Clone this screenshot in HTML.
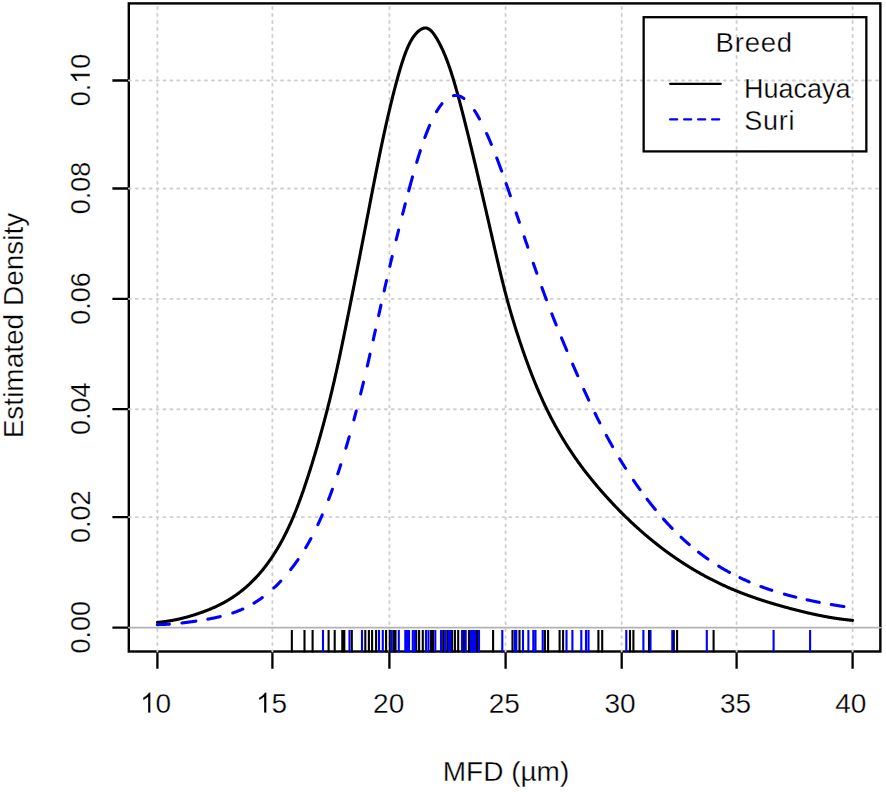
<!DOCTYPE html><html><head><meta charset="utf-8"><style>html,body{margin:0;padding:0;background:#fff;overflow:hidden}svg{display:block}text{font-family:"Liberation Sans",sans-serif;fill:#000;stroke:#fff;stroke-width:0.3px}</style></head><body>
<svg width="886" height="792" viewBox="0 0 886 792">
<rect width="886" height="792" fill="#fff"/>
<rect x="128.8" y="3.4" width="751.55" height="648.10" fill="none" stroke="#000" stroke-width="2.4"/>
<path d="M157.4,651.5V668.7M272.4,651.5V668.7M389.4,651.5V668.7M505.6,651.5V668.7M621.7,651.5V668.7M736.6,651.5V668.7M852.6,651.5V668.7M112.4,627.6H128.8M112.4,517.1H128.8M112.4,409.2H128.8M112.4,298.9H128.8M112.4,188.5H128.8M112.4,80.5H128.8" stroke="#000" stroke-width="2.3" fill="none"/>
<path d="M157.4,651.5V3.4M272.4,651.5V3.4M389.4,651.5V3.4M505.6,651.5V3.4M621.7,651.5V3.4M736.6,651.5V3.4M852.6,651.5V3.4" stroke="#cfcfcf" stroke-width="1.9" stroke-dasharray="1.9 5.09" stroke-dashoffset="0.55" fill="none" stroke-linecap="round"/>
<path d="M128.8,517.1H880.35M128.8,409.2H880.35M128.8,298.9H880.35M128.8,188.5H880.35M128.8,80.5H880.35" stroke="#cfcfcf" stroke-width="1.9" stroke-dasharray="1.9 5.016" stroke-dashoffset="6.75" fill="none" stroke-linecap="round"/>
<path d="M128.8,627.6H880.35" stroke="#b2b2b2" stroke-width="1.9" stroke-linecap="round"/>
<path d="M763,0L583,0L583,1147Q518,1085 412.5,1023T223,930L223,1104Q374,1175 487,1276T647,1472L763,1472Z" transform="translate(140.05,712.7) scale(0.013672,-0.013672)" fill="#000" stroke="#fff" stroke-width="0.3" vector-effect="non-scaling-stroke"/><text x="155.62" y="712.7" font-size="28">0</text>
<path d="M763,0L583,0L583,1147Q518,1085 412.5,1023T223,930L223,1104Q374,1175 487,1276T647,1472L763,1472Z" transform="translate(256.04,712.7) scale(0.013672,-0.013672)" fill="#000" stroke="#fff" stroke-width="0.3" vector-effect="non-scaling-stroke"/><text x="271.61" y="712.7" font-size="28">5</text>
<text x="373.12" y="712.7" font-size="28">20</text>
<text x="488.76" y="712.7" font-size="28">25</text>
<text x="604.39" y="712.7" font-size="28">30</text>
<text x="719.88" y="712.7" font-size="28">35</text>
<text x="835.25" y="712.7" font-size="28">40</text>
<g transform="translate(89.9,627.2) rotate(-90)"><text x="-26.27" y="0" font-size="27">0.00</text></g>
<g transform="translate(89.9,516.7) rotate(-90)"><text x="-26.27" y="0" font-size="27">0.02</text></g>
<g transform="translate(89.9,408.8) rotate(-90)"><text x="-26.27" y="0" font-size="27">0.04</text></g>
<g transform="translate(89.9,298.5) rotate(-90)"><text x="-26.27" y="0" font-size="27">0.06</text></g>
<g transform="translate(89.9,188.1) rotate(-90)"><text x="-26.27" y="0" font-size="27">0.08</text></g>
<g transform="translate(89.9,80.1) rotate(-90)"><text x="-26.27" y="0" font-size="27">0.</text><path d="M763,0L583,0L583,1147Q518,1085 412.5,1023T223,930L223,1104Q374,1175 487,1276T647,1472L763,1472Z" transform="translate(-3.76,0) scale(0.013184,-0.013184)" fill="#000" stroke="#fff" stroke-width="0.3" vector-effect="non-scaling-stroke"/><text x="11.26" y="0" font-size="27">0</text></g>
<text x="506" y="781.4" font-size="28" text-anchor="middle">MFD (µm)</text>
<text transform="translate(23.0,325.5) rotate(-90)" font-size="28" text-anchor="middle">Estimated Density</text>
<path d="M157.40,622.37 L157.90,622.33 L158.40,622.29 L158.90,622.24 L159.40,622.20 L159.90,622.15 L160.40,622.10 L160.90,622.05 L161.40,621.99 L161.90,621.94 L162.40,621.88 L162.90,621.82 L163.40,621.76 L163.90,621.70 L164.40,621.63 L164.90,621.57 L165.40,621.50 L165.90,621.43 L166.40,621.36 L166.90,621.29 L167.40,621.21 L167.90,621.14 L168.40,621.06 L168.90,620.98 L169.40,620.90 L169.90,620.81 L170.40,620.73 L170.90,620.64 L171.40,620.56 L171.90,620.47 L172.40,620.38 L172.90,620.28 L173.40,620.19 L173.90,620.09 L174.40,619.99 L174.90,619.89 L175.40,619.79 L175.90,619.69 L176.40,619.59 L176.90,619.48 L177.40,619.37 L177.90,619.26 L178.40,619.15 L178.90,619.04 L179.40,618.93 L179.90,618.81 L180.40,618.70 L180.90,618.58 L181.40,618.46 L181.90,618.34 L182.40,618.21 L182.90,618.09 L183.40,617.96 L183.90,617.84 L184.40,617.71 L184.90,617.58 L185.40,617.44 L185.90,617.31 L186.40,617.18 L186.90,617.04 L187.40,616.90 L187.90,616.76 L188.40,616.62 L188.90,616.48 L189.40,616.33 L189.90,616.19 L190.40,616.04 L190.90,615.89 L191.40,615.74 L191.90,615.59 L192.40,615.44 L192.90,615.29 L193.40,615.13 L193.90,614.98 L194.40,614.82 L194.90,614.66 L195.40,614.50 L195.90,614.34 L196.40,614.17 L196.90,614.01 L197.40,613.84 L197.90,613.67 L198.40,613.51 L198.90,613.34 L199.40,613.16 L199.90,612.99 L200.40,612.82 L200.90,612.64 L201.40,612.47 L201.90,612.29 L202.40,612.11 L202.90,611.93 L203.40,611.74 L203.90,611.56 L204.40,611.37 L204.90,611.19 L205.40,611.00 L205.90,610.81 L206.40,610.61 L206.90,610.42 L207.40,610.22 L207.90,610.03 L208.40,609.83 L208.90,609.63 L209.40,609.42 L209.90,609.22 L210.40,609.01 L210.90,608.80 L211.40,608.59 L211.90,608.38 L212.40,608.16 L212.90,607.94 L213.40,607.72 L213.90,607.50 L214.40,607.28 L214.90,607.05 L215.40,606.82 L215.90,606.59 L216.40,606.36 L216.90,606.12 L217.40,605.89 L217.90,605.65 L218.40,605.40 L218.90,605.16 L219.40,604.91 L219.90,604.66 L220.40,604.41 L220.90,604.15 L221.40,603.89 L221.90,603.63 L222.40,603.37 L222.90,603.10 L223.40,602.83 L223.90,602.56 L224.40,602.28 L224.90,602.00 L225.40,601.72 L225.90,601.44 L226.40,601.15 L226.90,600.86 L227.40,600.57 L227.90,600.27 L228.40,599.97 L228.90,599.67 L229.40,599.36 L229.90,599.05 L230.40,598.74 L230.90,598.43 L231.40,598.11 L231.90,597.79 L232.40,597.46 L232.90,597.13 L233.40,596.80 L233.90,596.46 L234.40,596.12 L234.90,595.78 L235.40,595.43 L235.90,595.08 L236.40,594.73 L236.90,594.37 L237.40,594.01 L237.90,593.64 L238.40,593.27 L238.90,592.90 L239.40,592.52 L239.90,592.14 L240.40,591.76 L240.90,591.37 L241.40,590.98 L241.90,590.58 L242.40,590.18 L242.90,589.78 L243.40,589.37 L243.90,588.95 L244.40,588.54 L244.90,588.11 L245.40,587.69 L245.90,587.26 L246.40,586.82 L246.90,586.38 L247.40,585.94 L247.90,585.49 L248.40,585.03 L248.90,584.57 L249.40,584.11 L249.90,583.64 L250.40,583.17 L250.90,582.69 L251.40,582.20 L251.90,581.71 L252.40,581.22 L252.90,580.72 L253.40,580.21 L253.90,579.70 L254.40,579.19 L254.90,578.67 L255.40,578.14 L255.90,577.61 L256.40,577.07 L256.90,576.53 L257.40,575.98 L257.90,575.42 L258.40,574.86 L258.90,574.30 L259.40,573.72 L259.90,573.14 L260.40,572.56 L260.90,571.97 L261.40,571.37 L261.90,570.77 L262.40,570.16 L262.90,569.54 L263.40,568.92 L263.90,568.29 L264.40,567.66 L264.90,567.01 L265.40,566.37 L265.90,565.71 L266.40,565.05 L266.90,564.38 L267.40,563.71 L267.90,563.02 L268.40,562.34 L268.90,561.64 L269.40,560.94 L269.90,560.23 L270.40,559.51 L270.90,558.79 L271.40,558.05 L271.90,557.32 L272.40,556.57 L272.90,555.81 L273.40,555.05 L273.90,554.28 L274.40,553.50 L274.90,552.72 L275.40,551.92 L275.90,551.12 L276.40,550.31 L276.90,549.48 L277.40,548.65 L277.90,547.82 L278.40,546.97 L278.90,546.11 L279.40,545.24 L279.90,544.37 L280.40,543.48 L280.90,542.58 L281.40,541.68 L281.90,540.76 L282.40,539.84 L282.90,538.90 L283.40,537.95 L283.90,536.99 L284.40,536.03 L284.90,535.05 L285.40,534.06 L285.90,533.06 L286.40,532.04 L286.90,531.02 L287.40,529.98 L287.90,528.94 L288.40,527.88 L288.90,526.81 L289.40,525.72 L289.90,524.63 L290.40,523.52 L290.90,522.40 L291.40,521.27 L291.90,520.13 L292.40,518.97 L292.90,517.80 L293.40,516.61 L293.90,515.42 L294.40,514.21 L294.90,512.98 L295.40,511.75 L295.90,510.50 L296.40,509.23 L296.90,507.95 L297.40,506.66 L297.90,505.36 L298.40,504.04 L298.90,502.72 L299.40,501.37 L299.90,500.02 L300.40,498.65 L300.90,497.28 L301.40,495.88 L301.90,494.48 L302.40,493.07 L302.90,491.64 L303.40,490.20 L303.90,488.75 L304.40,487.29 L304.90,485.82 L305.40,484.34 L305.90,482.84 L306.40,481.34 L306.90,479.82 L307.40,478.30 L307.90,476.76 L308.40,475.21 L308.90,473.65 L309.40,472.09 L309.90,470.51 L310.40,468.92 L310.90,467.32 L311.40,465.72 L311.90,464.10 L312.40,462.48 L312.90,460.84 L313.40,459.20 L313.90,457.54 L314.40,455.88 L314.90,454.21 L315.40,452.53 L315.90,450.85 L316.40,449.15 L316.90,447.44 L317.40,445.73 L317.90,444.00 L318.40,442.27 L318.90,440.52 L319.40,438.76 L319.90,437.00 L320.40,435.22 L320.90,433.43 L321.40,431.63 L321.90,429.82 L322.40,428.00 L322.90,426.17 L323.40,424.32 L323.90,422.46 L324.40,420.59 L324.90,418.70 L325.40,416.80 L325.90,414.89 L326.40,412.97 L326.90,411.03 L327.40,409.07 L327.90,407.11 L328.40,405.13 L328.90,403.13 L329.40,401.12 L329.90,399.09 L330.40,397.05 L330.90,394.99 L331.40,392.92 L331.90,390.83 L332.40,388.72 L332.90,386.60 L333.40,384.46 L333.90,382.30 L334.40,380.13 L334.90,377.94 L335.40,375.73 L335.90,373.50 L336.40,371.26 L336.90,369.00 L337.40,366.72 L337.90,364.43 L338.40,362.13 L338.90,359.81 L339.40,357.47 L339.90,355.13 L340.40,352.77 L340.90,350.40 L341.40,348.01 L341.90,345.62 L342.40,343.21 L342.90,340.79 L343.40,338.37 L343.90,335.93 L344.40,333.49 L344.90,331.04 L345.40,328.58 L345.90,326.11 L346.40,323.64 L346.90,321.16 L347.40,318.67 L347.90,316.18 L348.40,313.69 L348.90,311.19 L349.40,308.69 L349.90,306.18 L350.40,303.67 L350.90,301.16 L351.40,298.65 L351.90,296.13 L352.40,293.61 L352.90,291.09 L353.40,288.57 L353.90,286.04 L354.40,283.51 L354.90,280.98 L355.40,278.45 L355.90,275.91 L356.40,273.37 L356.90,270.83 L357.40,268.28 L357.90,265.74 L358.40,263.19 L358.90,260.63 L359.40,258.08 L359.90,255.52 L360.40,252.96 L360.90,250.39 L361.40,247.83 L361.90,245.26 L362.40,242.68 L362.90,240.11 L363.40,237.53 L363.90,234.95 L364.40,232.36 L364.90,229.77 L365.40,227.18 L365.90,224.59 L366.40,222.00 L366.90,219.40 L367.40,216.80 L367.90,214.20 L368.40,211.61 L368.90,209.01 L369.40,206.42 L369.90,203.83 L370.40,201.24 L370.90,198.65 L371.40,196.07 L371.90,193.49 L372.40,190.92 L372.90,188.35 L373.40,185.79 L373.90,183.24 L374.40,180.69 L374.90,178.15 L375.40,175.62 L375.90,173.10 L376.40,170.59 L376.90,168.09 L377.40,165.60 L377.90,163.12 L378.40,160.65 L378.90,158.20 L379.40,155.76 L379.90,153.33 L380.40,150.92 L380.90,148.52 L381.40,146.14 L381.90,143.77 L382.40,141.41 L382.90,139.08 L383.40,136.75 L383.90,134.45 L384.40,132.16 L384.90,129.88 L385.40,127.62 L385.90,125.38 L386.40,123.15 L386.90,120.94 L387.40,118.74 L387.90,116.56 L388.40,114.40 L388.90,112.26 L389.40,110.13 L389.90,108.02 L390.40,105.93 L390.90,103.85 L391.40,101.80 L391.90,99.76 L392.40,97.74 L392.90,95.73 L393.40,93.75 L393.90,91.78 L394.40,89.83 L394.90,87.90 L395.40,85.99 L395.90,84.10 L396.40,82.23 L396.90,80.39 L397.40,78.56 L397.90,76.76 L398.40,74.98 L398.90,73.22 L399.40,71.49 L399.90,69.79 L400.40,68.12 L400.90,66.48 L401.40,64.86 L401.90,63.28 L402.40,61.72 L402.90,60.20 L403.40,58.71 L403.90,57.26 L404.40,55.84 L404.90,54.46 L405.40,53.11 L405.90,51.81 L406.40,50.54 L406.90,49.31 L407.40,48.12 L407.90,46.97 L408.40,45.86 L408.90,44.80 L409.40,43.78 L409.90,42.79 L410.40,41.85 L410.90,40.94 L411.40,40.07 L411.90,39.24 L412.40,38.44 L412.90,37.67 L413.40,36.94 L413.90,36.24 L414.40,35.57 L414.90,34.94 L415.40,34.33 L415.90,33.75 L416.40,33.20 L416.90,32.67 L417.40,32.17 L417.90,31.70 L418.40,31.24 L418.90,30.82 L419.40,30.42 L419.90,30.04 L420.40,29.69 L420.90,29.37 L421.40,29.09 L421.90,28.83 L422.40,28.60 L422.90,28.41 L423.40,28.25 L423.90,28.13 L424.40,28.04 L424.90,27.99 L425.40,27.98 L425.90,28.01 L426.40,28.08 L426.90,28.20 L427.40,28.35 L427.90,28.55 L428.40,28.79 L428.90,29.08 L429.40,29.41 L429.90,29.79 L430.40,30.20 L430.90,30.65 L431.40,31.15 L431.90,31.68 L432.40,32.24 L432.90,32.84 L433.40,33.47 L433.90,34.14 L434.40,34.84 L434.90,35.56 L435.40,36.32 L435.90,37.10 L436.40,37.91 L436.90,38.74 L437.40,39.60 L437.90,40.48 L438.40,41.38 L438.90,42.30 L439.40,43.25 L439.90,44.21 L440.40,45.20 L440.90,46.21 L441.40,47.24 L441.90,48.30 L442.40,49.38 L442.90,50.48 L443.40,51.61 L443.90,52.76 L444.40,53.93 L444.90,55.13 L445.40,56.36 L445.90,57.61 L446.40,58.88 L446.90,60.18 L447.40,61.51 L447.90,62.86 L448.40,64.24 L448.90,65.65 L449.40,67.08 L449.90,68.54 L450.40,70.03 L450.90,71.55 L451.40,73.09 L451.90,74.66 L452.40,76.25 L452.90,77.87 L453.40,79.51 L453.90,81.17 L454.40,82.86 L454.90,84.57 L455.40,86.29 L455.90,88.04 L456.40,89.81 L456.90,91.59 L457.40,93.39 L457.90,95.21 L458.40,97.04 L458.90,98.89 L459.40,100.76 L459.90,102.64 L460.40,104.53 L460.90,106.43 L461.40,108.35 L461.90,110.27 L462.40,112.21 L462.90,114.15 L463.40,116.11 L463.90,118.07 L464.40,120.05 L464.90,122.03 L465.40,124.02 L465.90,126.02 L466.40,128.03 L466.90,130.04 L467.40,132.07 L467.90,134.09 L468.40,136.13 L468.90,138.17 L469.40,140.22 L469.90,142.28 L470.40,144.34 L470.90,146.41 L471.40,148.48 L471.90,150.56 L472.40,152.65 L472.90,154.73 L473.40,156.83 L473.90,158.92 L474.40,161.02 L474.90,163.13 L475.40,165.23 L475.90,167.34 L476.40,169.46 L476.90,171.57 L477.40,173.69 L477.90,175.82 L478.40,177.94 L478.90,180.07 L479.40,182.21 L479.90,184.34 L480.40,186.48 L480.90,188.62 L481.40,190.77 L481.90,192.91 L482.40,195.06 L482.90,197.22 L483.40,199.37 L483.90,201.53 L484.40,203.69 L484.90,205.85 L485.40,208.02 L485.90,210.19 L486.40,212.36 L486.90,214.53 L487.40,216.71 L487.90,218.89 L488.40,221.07 L488.90,223.25 L489.40,225.43 L489.90,227.62 L490.40,229.81 L490.90,232.00 L491.40,234.19 L491.90,236.39 L492.40,238.58 L492.90,240.77 L493.40,242.95 L493.90,245.14 L494.40,247.32 L494.90,249.50 L495.40,251.67 L495.90,253.84 L496.40,256.00 L496.90,258.15 L497.40,260.30 L497.90,262.43 L498.40,264.56 L498.90,266.68 L499.40,268.78 L499.90,270.88 L500.40,272.96 L500.90,275.03 L501.40,277.08 L501.90,279.13 L502.40,281.15 L502.90,283.16 L503.40,285.16 L503.90,287.13 L504.40,289.09 L504.90,291.03 L505.40,292.95 L505.90,294.85 L506.40,296.73 L506.90,298.60 L507.40,300.44 L507.90,302.27 L508.40,304.08 L508.90,305.87 L509.40,307.64 L509.90,309.40 L510.40,311.14 L510.90,312.87 L511.40,314.58 L511.90,316.28 L512.40,317.96 L512.90,319.62 L513.40,321.28 L513.90,322.91 L514.40,324.54 L514.90,326.15 L515.40,327.75 L515.90,329.34 L516.40,330.91 L516.90,332.48 L517.40,334.03 L517.90,335.57 L518.40,337.10 L518.90,338.62 L519.40,340.13 L519.90,341.64 L520.40,343.13 L520.90,344.61 L521.40,346.09 L521.90,347.55 L522.40,349.01 L522.90,350.45 L523.40,351.89 L523.90,353.32 L524.40,354.74 L524.90,356.15 L525.40,357.56 L525.90,358.95 L526.40,360.33 L526.90,361.71 L527.40,363.08 L527.90,364.43 L528.40,365.78 L528.90,367.12 L529.40,368.45 L529.90,369.77 L530.40,371.09 L530.90,372.39 L531.40,373.69 L531.90,374.97 L532.40,376.25 L532.90,377.52 L533.40,378.78 L533.90,380.03 L534.40,381.27 L534.90,382.50 L535.40,383.73 L535.90,384.94 L536.40,386.15 L536.90,387.35 L537.40,388.53 L537.90,389.71 L538.40,390.89 L538.90,392.05 L539.40,393.20 L539.90,394.35 L540.40,395.48 L540.90,396.61 L541.40,397.73 L541.90,398.84 L542.40,399.94 L542.90,401.03 L543.40,402.12 L543.90,403.20 L544.40,404.26 L544.90,405.33 L545.40,406.38 L545.90,407.42 L546.40,408.46 L546.90,409.49 L547.40,410.51 L547.90,411.52 L548.40,412.53 L548.90,413.53 L549.40,414.52 L549.90,415.51 L550.40,416.49 L550.90,417.46 L551.40,418.42 L551.90,419.38 L552.40,420.33 L552.90,421.27 L553.40,422.21 L553.90,423.14 L554.40,424.06 L554.90,424.98 L555.40,425.89 L555.90,426.79 L556.40,427.69 L556.90,428.58 L557.40,429.47 L557.90,430.35 L558.40,431.23 L558.90,432.10 L559.40,432.96 L559.90,433.82 L560.40,434.67 L560.90,435.52 L561.40,436.36 L561.90,437.20 L562.40,438.03 L562.90,438.86 L563.40,439.68 L563.90,440.49 L564.40,441.31 L564.90,442.11 L565.40,442.92 L565.90,443.71 L566.40,444.51 L566.90,445.30 L567.40,446.08 L567.90,446.86 L568.40,447.64 L568.90,448.41 L569.40,449.17 L569.90,449.94 L570.40,450.70 L570.90,451.45 L571.40,452.20 L571.90,452.95 L572.40,453.69 L572.90,454.43 L573.40,455.16 L573.90,455.89 L574.40,456.62 L574.90,457.34 L575.40,458.06 L575.90,458.77 L576.40,459.48 L576.90,460.19 L577.40,460.90 L577.90,461.60 L578.40,462.29 L578.90,462.98 L579.40,463.67 L579.90,464.36 L580.40,465.04 L580.90,465.72 L581.40,466.40 L581.90,467.07 L582.40,467.74 L582.90,468.40 L583.40,469.07 L583.90,469.72 L584.40,470.38 L584.90,471.03 L585.40,471.68 L585.90,472.33 L586.40,472.98 L586.90,473.62 L587.40,474.26 L587.90,474.89 L588.40,475.52 L588.90,476.15 L589.40,476.78 L589.90,477.40 L590.40,478.03 L590.90,478.65 L591.40,479.26 L591.90,479.88 L592.40,480.49 L592.90,481.10 L593.40,481.70 L593.90,482.31 L594.40,482.91 L594.90,483.51 L595.40,484.11 L595.90,484.70 L596.40,485.30 L596.90,485.89 L597.40,486.48 L597.90,487.06 L598.40,487.65 L598.90,488.23 L599.40,488.81 L599.90,489.39 L600.40,489.97 L600.90,490.54 L601.40,491.12 L601.90,491.69 L602.40,492.26 L602.90,492.82 L603.40,493.39 L603.90,493.95 L604.40,494.52 L604.90,495.08 L605.40,495.64 L605.90,496.19 L606.40,496.75 L606.90,497.30 L607.40,497.85 L607.90,498.40 L608.40,498.95 L608.90,499.50 L609.40,500.04 L609.90,500.58 L610.40,501.12 L610.90,501.66 L611.40,502.20 L611.90,502.74 L612.40,503.27 L612.90,503.80 L613.40,504.33 L613.90,504.86 L614.40,505.39 L614.90,505.91 L615.40,506.44 L615.90,506.96 L616.40,507.48 L616.90,507.99 L617.40,508.51 L617.90,509.03 L618.40,509.54 L618.90,510.05 L619.40,510.56 L619.90,511.07 L620.40,511.57 L620.90,512.08 L621.40,512.58 L621.90,513.08 L622.40,513.58 L622.90,514.08 L623.40,514.58 L623.90,515.07 L624.40,515.56 L624.90,516.06 L625.40,516.54 L625.90,517.03 L626.40,517.52 L626.90,518.00 L627.40,518.49 L627.90,518.97 L628.40,519.45 L628.90,519.93 L629.40,520.40 L629.90,520.88 L630.40,521.35 L630.90,521.82 L631.40,522.29 L631.90,522.76 L632.40,523.23 L632.90,523.70 L633.40,524.16 L633.90,524.62 L634.40,525.08 L634.90,525.54 L635.40,526.00 L635.90,526.46 L636.40,526.91 L636.90,527.36 L637.40,527.81 L637.90,528.26 L638.40,528.71 L638.90,529.16 L639.40,529.61 L639.90,530.05 L640.40,530.49 L640.90,530.93 L641.40,531.37 L641.90,531.81 L642.40,532.25 L642.90,532.68 L643.40,533.11 L643.90,533.55 L644.40,533.98 L644.90,534.41 L645.40,534.83 L645.90,535.26 L646.40,535.68 L646.90,536.11 L647.40,536.53 L647.90,536.95 L648.40,537.37 L648.90,537.79 L649.40,538.20 L649.90,538.62 L650.40,539.03 L650.90,539.44 L651.40,539.85 L651.90,540.26 L652.40,540.67 L652.90,541.07 L653.40,541.48 L653.90,541.88 L654.40,542.28 L654.90,542.68 L655.40,543.08 L655.90,543.48 L656.40,543.88 L656.90,544.27 L657.40,544.66 L657.90,545.06 L658.40,545.45 L658.90,545.84 L659.40,546.22 L659.90,546.61 L660.40,546.99 L660.90,547.38 L661.40,547.76 L661.90,548.14 L662.40,548.52 L662.90,548.90 L663.40,549.28 L663.90,549.65 L664.40,550.03 L664.90,550.40 L665.40,550.77 L665.90,551.14 L666.40,551.51 L666.90,551.88 L667.40,552.24 L667.90,552.61 L668.40,552.97 L668.90,553.33 L669.40,553.69 L669.90,554.05 L670.40,554.41 L670.90,554.77 L671.40,555.12 L671.90,555.48 L672.40,555.83 L672.90,556.18 L673.40,556.53 L673.90,556.88 L674.40,557.23 L674.90,557.57 L675.40,557.92 L675.90,558.26 L676.40,558.60 L676.90,558.94 L677.40,559.28 L677.90,559.62 L678.40,559.96 L678.90,560.29 L679.40,560.63 L679.90,560.96 L680.40,561.29 L680.90,561.62 L681.40,561.95 L681.90,562.28 L682.40,562.61 L682.90,562.93 L683.40,563.26 L683.90,563.58 L684.40,563.90 L684.90,564.22 L685.40,564.54 L685.90,564.86 L686.40,565.18 L686.90,565.49 L687.40,565.81 L687.90,566.12 L688.40,566.43 L688.90,566.74 L689.40,567.05 L689.90,567.36 L690.40,567.66 L690.90,567.97 L691.40,568.27 L691.90,568.58 L692.40,568.88 L692.90,569.18 L693.40,569.48 L693.90,569.78 L694.40,570.07 L694.90,570.37 L695.40,570.66 L695.90,570.96 L696.40,571.25 L696.90,571.54 L697.40,571.83 L697.90,572.12 L698.40,572.40 L698.90,572.69 L699.40,572.97 L699.90,573.26 L700.40,573.54 L700.90,573.82 L701.40,574.10 L701.90,574.38 L702.40,574.66 L702.90,574.93 L703.40,575.21 L703.90,575.48 L704.40,575.76 L704.90,576.03 L705.40,576.30 L705.90,576.57 L706.40,576.84 L706.90,577.10 L707.40,577.37 L707.90,577.63 L708.40,577.90 L708.90,578.16 L709.40,578.42 L709.90,578.68 L710.40,578.94 L710.90,579.20 L711.40,579.45 L711.90,579.71 L712.40,579.96 L712.90,580.22 L713.40,580.47 L713.90,580.72 L714.40,580.97 L714.90,581.22 L715.40,581.47 L715.90,581.71 L716.40,581.96 L716.90,582.20 L717.40,582.44 L717.90,582.69 L718.40,582.93 L718.90,583.17 L719.40,583.41 L719.90,583.64 L720.40,583.88 L720.90,584.12 L721.40,584.35 L721.90,584.58 L722.40,584.82 L722.90,585.05 L723.40,585.28 L723.90,585.51 L724.40,585.73 L724.90,585.96 L725.40,586.19 L725.90,586.41 L726.40,586.63 L726.90,586.86 L727.40,587.08 L727.90,587.30 L728.40,587.52 L728.90,587.74 L729.40,587.95 L729.90,588.17 L730.40,588.39 L730.90,588.60 L731.40,588.81 L731.90,589.03 L732.40,589.24 L732.90,589.45 L733.40,589.66 L733.90,589.87 L734.40,590.08 L734.90,590.28 L735.40,590.49 L735.90,590.69 L736.40,590.90 L736.90,591.10 L737.40,591.30 L737.90,591.50 L738.40,591.70 L738.90,591.90 L739.40,592.10 L739.90,592.30 L740.40,592.50 L740.90,592.69 L741.40,592.89 L741.90,593.08 L742.40,593.27 L742.90,593.47 L743.40,593.66 L743.90,593.85 L744.40,594.04 L744.90,594.23 L745.40,594.41 L745.90,594.60 L746.40,594.79 L746.90,594.97 L747.40,595.16 L747.90,595.34 L748.40,595.52 L748.90,595.71 L749.40,595.89 L749.90,596.07 L750.40,596.25 L750.90,596.43 L751.40,596.60 L751.90,596.78 L752.40,596.96 L752.90,597.13 L753.40,597.31 L753.90,597.48 L754.40,597.66 L754.90,597.83 L755.40,598.00 L755.90,598.17 L756.40,598.35 L756.90,598.52 L757.40,598.68 L757.90,598.85 L758.40,599.02 L758.90,599.19 L759.40,599.35 L759.90,599.52 L760.40,599.68 L760.90,599.85 L761.40,600.01 L761.90,600.18 L762.40,600.34 L762.90,600.50 L763.40,600.66 L763.90,600.82 L764.40,600.98 L764.90,601.14 L765.40,601.30 L765.90,601.46 L766.40,601.61 L766.90,601.77 L767.40,601.93 L767.90,602.08 L768.40,602.24 L768.90,602.39 L769.40,602.54 L769.90,602.70 L770.40,602.85 L770.90,603.00 L771.40,603.15 L771.90,603.30 L772.40,603.45 L772.90,603.60 L773.40,603.75 L773.90,603.90 L774.40,604.05 L774.90,604.19 L775.40,604.34 L775.90,604.49 L776.40,604.63 L776.90,604.78 L777.40,604.92 L777.90,605.06 L778.40,605.21 L778.90,605.35 L779.40,605.49 L779.90,605.64 L780.40,605.78 L780.90,605.92 L781.40,606.06 L781.90,606.20 L782.40,606.34 L782.90,606.48 L783.40,606.62 L783.90,606.76 L784.40,606.89 L784.90,607.03 L785.40,607.17 L785.90,607.30 L786.40,607.44 L786.90,607.58 L787.40,607.71 L787.90,607.85 L788.40,607.98 L788.90,608.12 L789.40,608.25 L789.90,608.38 L790.40,608.52 L790.90,608.65 L791.40,608.78 L791.90,608.91 L792.40,609.04 L792.90,609.17 L793.40,609.31 L793.90,609.44 L794.40,609.57 L794.90,609.69 L795.40,609.82 L795.90,609.95 L796.40,610.08 L796.90,610.21 L797.40,610.33 L797.90,610.46 L798.40,610.59 L798.90,610.71 L799.40,610.84 L799.90,610.96 L800.40,611.09 L800.90,611.21 L801.40,611.33 L801.90,611.46 L802.40,611.58 L802.90,611.70 L803.40,611.82 L803.90,611.94 L804.40,612.06 L804.90,612.18 L805.40,612.30 L805.90,612.42 L806.40,612.54 L806.90,612.66 L807.40,612.77 L807.90,612.89 L808.40,613.00 L808.90,613.12 L809.40,613.23 L809.90,613.35 L810.40,613.46 L810.90,613.57 L811.40,613.69 L811.90,613.80 L812.40,613.91 L812.90,614.02 L813.40,614.13 L813.90,614.24 L814.40,614.35 L814.90,614.45 L815.40,614.56 L815.90,614.67 L816.40,614.77 L816.90,614.88 L817.40,614.98 L817.90,615.09 L818.40,615.19 L818.90,615.29 L819.40,615.40 L819.90,615.50 L820.40,615.60 L820.90,615.70 L821.40,615.80 L821.90,615.89 L822.40,615.99 L822.90,616.09 L823.40,616.19 L823.90,616.28 L824.40,616.38 L824.90,616.47 L825.40,616.56 L825.90,616.65 L826.40,616.75 L826.90,616.84 L827.40,616.93 L827.90,617.02 L828.40,617.11 L828.90,617.19 L829.40,617.28 L829.90,617.37 L830.40,617.45 L830.90,617.54 L831.40,617.62 L831.90,617.70 L832.40,617.79 L832.90,617.87 L833.40,617.95 L833.90,618.03 L834.40,618.11 L834.90,618.18 L835.40,618.26 L835.90,618.34 L836.40,618.41 L836.90,618.49 L837.40,618.56 L837.90,618.63 L838.40,618.70 L838.90,618.78 L839.40,618.85 L839.90,618.91 L840.40,618.98 L840.90,619.05 L841.40,619.12 L841.90,619.18 L842.40,619.25 L842.90,619.31 L843.40,619.37 L843.90,619.43 L844.40,619.50 L844.90,619.56 L845.40,619.61 L845.90,619.67 L846.40,619.73 L846.90,619.78 L847.40,619.84 L847.90,619.89 L848.40,619.95 L848.90,620.00 L849.40,620.05 L849.90,620.10 L850.40,620.15 L850.90,620.20 L851.40,620.24 L851.90,620.29 L852.40,620.33 L852.60,620.35" stroke="#000" stroke-width="3.1" fill="none" stroke-linejoin="round" stroke-linecap="round"/>
<path d="M157.40,624.60 L157.90,624.59 L158.40,624.58 L158.90,624.57 L159.40,624.57 L159.90,624.55 L160.40,624.54 L160.90,624.53 L161.40,624.51 L161.90,624.50 L162.40,624.48 L162.90,624.46 L163.40,624.44 L163.90,624.42 L164.40,624.40 L164.90,624.38 L165.40,624.35 L165.90,624.33 L166.40,624.30 L166.90,624.27 L167.40,624.25 L167.90,624.22 L168.40,624.18 L168.90,624.15 L169.40,624.12 L169.90,624.09 L170.40,624.05 L170.90,624.01 L171.40,623.98 L171.90,623.94 L172.40,623.90 L172.90,623.86 L173.40,623.82 L173.90,623.77 L174.40,623.73 L174.90,623.69 L175.40,623.64 L175.90,623.60 L176.40,623.55 L176.90,623.50 L177.40,623.45 L177.90,623.40 L178.40,623.35 L178.90,623.30 L179.40,623.25 L179.90,623.19 L180.40,623.14 L180.90,623.08 L181.40,623.03 L181.90,622.97 L182.40,622.91 L182.90,622.86 L183.40,622.80 L183.90,622.74 L184.40,622.68 L184.90,622.61 L185.40,622.55 L185.90,622.49 L186.40,622.43 L186.90,622.36 L187.40,622.30 L187.90,622.23 L188.40,622.16 L188.90,622.10 L189.40,622.03 L189.90,621.96 L190.40,621.89 L190.90,621.82 L191.40,621.75 L191.90,621.68 L192.40,621.61 L192.90,621.54 L193.40,621.47 L193.90,621.39 L194.40,621.32 L194.90,621.25 L195.40,621.17 L195.90,621.10 L196.40,621.02 L196.90,620.95 L197.40,620.87 L197.90,620.79 L198.40,620.71 L198.90,620.64 L199.40,620.56 L199.90,620.48 L200.40,620.40 L200.90,620.32 L201.40,620.24 L201.90,620.16 L202.40,620.08 L202.90,620.00 L203.40,619.91 L203.90,619.83 L204.40,619.75 L204.90,619.66 L205.40,619.58 L205.90,619.49 L206.40,619.41 L206.90,619.32 L207.40,619.23 L207.90,619.14 L208.40,619.05 L208.90,618.96 L209.40,618.87 L209.90,618.78 L210.40,618.68 L210.90,618.59 L211.40,618.49 L211.90,618.40 L212.40,618.30 L212.90,618.20 L213.40,618.10 L213.90,618.00 L214.40,617.89 L214.90,617.79 L215.40,617.68 L215.90,617.58 L216.40,617.47 L216.90,617.36 L217.40,617.25 L217.90,617.13 L218.40,617.02 L218.90,616.90 L219.40,616.79 L219.90,616.67 L220.40,616.55 L220.90,616.43 L221.40,616.30 L221.90,616.18 L222.40,616.05 L222.90,615.92 L223.40,615.79 L223.90,615.66 L224.40,615.52 L224.90,615.38 L225.40,615.25 L225.90,615.11 L226.40,614.96 L226.90,614.82 L227.40,614.67 L227.90,614.52 L228.40,614.37 L228.90,614.22 L229.40,614.07 L229.90,613.91 L230.40,613.75 L230.90,613.59 L231.40,613.42 L231.90,613.26 L232.40,613.09 L232.90,612.92 L233.40,612.74 L233.90,612.57 L234.40,612.39 L234.90,612.21 L235.40,612.02 L235.90,611.84 L236.40,611.65 L236.90,611.46 L237.40,611.26 L237.90,611.07 L238.40,610.87 L238.90,610.67 L239.40,610.46 L239.90,610.25 L240.40,610.04 L240.90,609.83 L241.40,609.61 L241.90,609.39 L242.40,609.17 L242.90,608.94 L243.40,608.72 L243.90,608.48 L244.40,608.25 L244.90,608.01 L245.40,607.77 L245.90,607.53 L246.40,607.28 L246.90,607.03 L247.40,606.78 L247.90,606.52 L248.40,606.26 L248.90,606.00 L249.40,605.73 L249.90,605.46 L250.40,605.18 L250.90,604.91 L251.40,604.62 L251.90,604.34 L252.40,604.05 L252.90,603.76 L253.40,603.47 L253.90,603.17 L254.40,602.86 L254.90,602.56 L255.40,602.25 L255.90,601.93 L256.40,601.62 L256.90,601.30 L257.40,600.97 L257.90,600.64 L258.40,600.31 L258.90,599.97 L259.40,599.63 L259.90,599.29 L260.40,598.94 L260.90,598.59 L261.40,598.23 L261.90,597.87 L262.40,597.51 L262.90,597.14 L263.40,596.77 L263.90,596.39 L264.40,596.01 L264.90,595.62 L265.40,595.24 L265.90,594.84 L266.40,594.44 L266.90,594.04 L267.40,593.64 L267.90,593.23 L268.40,592.81 L268.90,592.39 L269.40,591.97 L269.90,591.54 L270.40,591.11 L270.90,590.67 L271.40,590.23 L271.90,589.79 L272.40,589.34 L272.90,588.88 L273.40,588.43 L273.90,587.96 L274.40,587.49 L274.90,587.02 L275.40,586.54 L275.90,586.06 L276.40,585.58 L276.90,585.08 L277.40,584.59 L277.90,584.09 L278.40,583.58 L278.90,583.07 L279.40,582.55 L279.90,582.03 L280.40,581.51 L280.90,580.98 L281.40,580.44 L281.90,579.90 L282.40,579.36 L282.90,578.81 L283.40,578.25 L283.90,577.69 L284.40,577.13 L284.90,576.56 L285.40,575.98 L285.90,575.40 L286.40,574.82 L286.90,574.23 L287.40,573.63 L287.90,573.03 L288.40,572.42 L288.90,571.81 L289.40,571.19 L289.90,570.57 L290.40,569.94 L290.90,569.31 L291.40,568.67 L291.90,568.03 L292.40,567.38 L292.90,566.72 L293.40,566.06 L293.90,565.39 L294.40,564.72 L294.90,564.04 L295.40,563.35 L295.90,562.66 L296.40,561.96 L296.90,561.26 L297.40,560.54 L297.90,559.83 L298.40,559.10 L298.90,558.37 L299.40,557.63 L299.90,556.88 L300.40,556.13 L300.90,555.37 L301.40,554.60 L301.90,553.83 L302.40,553.04 L302.90,552.25 L303.40,551.45 L303.90,550.65 L304.40,549.84 L304.90,549.01 L305.40,548.18 L305.90,547.35 L306.40,546.50 L306.90,545.65 L307.40,544.79 L307.90,543.91 L308.40,543.04 L308.90,542.15 L309.40,541.25 L309.90,540.35 L310.40,539.43 L310.90,538.51 L311.40,537.58 L311.90,536.63 L312.40,535.68 L312.90,534.72 L313.40,533.75 L313.90,532.78 L314.40,531.79 L314.90,530.79 L315.40,529.78 L315.90,528.76 L316.40,527.74 L316.90,526.70 L317.40,525.65 L317.90,524.59 L318.40,523.52 L318.90,522.44 L319.40,521.36 L319.90,520.26 L320.40,519.15 L320.90,518.02 L321.40,516.89 L321.90,515.75 L322.40,514.60 L322.90,513.43 L323.40,512.26 L323.90,511.07 L324.40,509.88 L324.90,508.67 L325.40,507.45 L325.90,506.22 L326.40,504.98 L326.90,503.73 L327.40,502.47 L327.90,501.20 L328.40,499.92 L328.90,498.62 L329.40,497.32 L329.90,496.00 L330.40,494.68 L330.90,493.34 L331.40,491.99 L331.90,490.63 L332.40,489.26 L332.90,487.88 L333.40,486.49 L333.90,485.09 L334.40,483.67 L334.90,482.25 L335.40,480.81 L335.90,479.37 L336.40,477.91 L336.90,476.44 L337.40,474.96 L337.90,473.47 L338.40,471.97 L338.90,470.45 L339.40,468.93 L339.90,467.39 L340.40,465.85 L340.90,464.29 L341.40,462.72 L341.90,461.14 L342.40,459.55 L342.90,457.95 L343.40,456.34 L343.90,454.71 L344.40,453.08 L344.90,451.43 L345.40,449.77 L345.90,448.10 L346.40,446.42 L346.90,444.73 L347.40,443.02 L347.90,441.31 L348.40,439.58 L348.90,437.85 L349.40,436.10 L349.90,434.34 L350.40,432.57 L350.90,430.79 L351.40,428.99 L351.90,427.19 L352.40,425.37 L352.90,423.54 L353.40,421.70 L353.90,419.85 L354.40,417.99 L354.90,416.12 L355.40,414.23 L355.90,412.34 L356.40,410.43 L356.90,408.51 L357.40,406.58 L357.90,404.64 L358.40,402.69 L358.90,400.72 L359.40,398.75 L359.90,396.76 L360.40,394.76 L360.90,392.75 L361.40,390.73 L361.90,388.69 L362.40,386.65 L362.90,384.59 L363.40,382.53 L363.90,380.45 L364.40,378.36 L364.90,376.25 L365.40,374.14 L365.90,372.01 L366.40,369.88 L366.90,367.73 L367.40,365.58 L367.90,363.41 L368.40,361.24 L368.90,359.05 L369.40,356.86 L369.90,354.67 L370.40,352.46 L370.90,350.25 L371.40,348.03 L371.90,345.81 L372.40,343.58 L372.90,341.35 L373.40,339.11 L373.90,336.87 L374.40,334.63 L374.90,332.39 L375.40,330.14 L375.90,327.89 L376.40,325.64 L376.90,323.38 L377.40,321.13 L377.90,318.88 L378.40,316.63 L378.90,314.37 L379.40,312.12 L379.90,309.88 L380.40,307.63 L380.90,305.39 L381.40,303.15 L381.90,300.92 L382.40,298.68 L382.90,296.46 L383.40,294.24 L383.90,292.02 L384.40,289.81 L384.90,287.61 L385.40,285.42 L385.90,283.23 L386.40,281.05 L386.90,278.87 L387.40,276.71 L387.90,274.55 L388.40,272.40 L388.90,270.25 L389.40,268.11 L389.90,265.98 L390.40,263.86 L390.90,261.74 L391.40,259.63 L391.90,257.53 L392.40,255.43 L392.90,253.34 L393.40,251.26 L393.90,249.18 L394.40,247.11 L394.90,245.05 L395.40,243.00 L395.90,240.95 L396.40,238.91 L396.90,236.87 L397.40,234.84 L397.90,232.82 L398.40,230.81 L398.90,228.80 L399.40,226.80 L399.90,224.80 L400.40,222.81 L400.90,220.83 L401.40,218.86 L401.90,216.89 L402.40,214.93 L402.90,212.97 L403.40,211.02 L403.90,209.08 L404.40,207.14 L404.90,205.21 L405.40,203.29 L405.90,201.37 L406.40,199.46 L406.90,197.56 L407.40,195.67 L407.90,193.78 L408.40,191.91 L408.90,190.04 L409.40,188.18 L409.90,186.33 L410.40,184.49 L410.90,182.66 L411.40,180.85 L411.90,179.04 L412.40,177.25 L412.90,175.47 L413.40,173.70 L413.90,171.94 L414.40,170.20 L414.90,168.47 L415.40,166.75 L415.90,165.05 L416.40,163.37 L416.90,161.70 L417.40,160.04 L417.90,158.40 L418.40,156.78 L418.90,155.18 L419.40,153.59 L419.90,152.02 L420.40,150.46 L420.90,148.93 L421.40,147.41 L421.90,145.92 L422.40,144.44 L422.90,142.99 L423.40,141.55 L423.90,140.13 L424.40,138.74 L424.90,137.37 L425.40,136.01 L425.90,134.68 L426.40,133.38 L426.90,132.09 L427.40,130.83 L427.90,129.59 L428.40,128.37 L428.90,127.17 L429.40,126.00 L429.90,124.84 L430.40,123.71 L430.90,122.60 L431.40,121.52 L431.90,120.45 L432.40,119.41 L432.90,118.39 L433.40,117.39 L433.90,116.41 L434.40,115.46 L434.90,114.53 L435.40,113.62 L435.90,112.73 L436.40,111.86 L436.90,111.02 L437.40,110.20 L437.90,109.40 L438.40,108.62 L438.90,107.87 L439.40,107.14 L439.90,106.43 L440.40,105.74 L440.90,105.08 L441.40,104.43 L441.90,103.81 L442.40,103.21 L442.90,102.64 L443.40,102.08 L443.90,101.55 L444.40,101.04 L444.90,100.56 L445.40,100.09 L445.90,99.65 L446.40,99.23 L446.90,98.83 L447.40,98.46 L447.90,98.11 L448.40,97.78 L448.90,97.47 L449.40,97.18 L449.90,96.92 L450.40,96.68 L450.90,96.46 L451.40,96.26 L451.90,96.09 L452.40,95.93 L452.90,95.80 L453.40,95.70 L453.90,95.61 L454.40,95.55 L454.90,95.50 L455.40,95.48 L455.90,95.49 L456.40,95.51 L456.90,95.56 L457.40,95.62 L457.90,95.71 L458.40,95.83 L458.90,95.96 L459.40,96.12 L459.90,96.29 L460.40,96.49 L460.90,96.71 L461.40,96.96 L461.90,97.22 L462.40,97.51 L462.90,97.82 L463.40,98.15 L463.90,98.50 L464.40,98.87 L464.90,99.26 L465.40,99.68 L465.90,100.11 L466.40,100.57 L466.90,101.04 L467.40,101.54 L467.90,102.05 L468.40,102.58 L468.90,103.13 L469.40,103.71 L469.90,104.30 L470.40,104.90 L470.90,105.53 L471.40,106.18 L471.90,106.84 L472.40,107.52 L472.90,108.22 L473.40,108.93 L473.90,109.67 L474.40,110.42 L474.90,111.18 L475.40,111.97 L475.90,112.76 L476.40,113.58 L476.90,114.41 L477.40,115.26 L477.90,116.12 L478.40,117.00 L478.90,117.89 L479.40,118.79 L479.90,119.72 L480.40,120.65 L480.90,121.60 L481.40,122.57 L481.90,123.55 L482.40,124.54 L482.90,125.54 L483.40,126.56 L483.90,127.59 L484.40,128.64 L484.90,129.69 L485.40,130.76 L485.90,131.85 L486.40,132.94 L486.90,134.05 L487.40,135.16 L487.90,136.29 L488.40,137.43 L488.90,138.58 L489.40,139.75 L489.90,140.92 L490.40,142.10 L490.90,143.30 L491.40,144.50 L491.90,145.72 L492.40,146.94 L492.90,148.17 L493.40,149.42 L493.90,150.67 L494.40,151.93 L494.90,153.20 L495.40,154.48 L495.90,155.77 L496.40,157.06 L496.90,158.36 L497.40,159.67 L497.90,160.99 L498.40,162.32 L498.90,163.65 L499.40,164.99 L499.90,166.34 L500.40,167.69 L500.90,169.05 L501.40,170.42 L501.90,171.79 L502.40,173.17 L502.90,174.56 L503.40,175.95 L503.90,177.34 L504.40,178.75 L504.90,180.15 L505.40,181.56 L505.90,182.98 L506.40,184.40 L506.90,185.83 L507.40,187.26 L507.90,188.69 L508.40,190.13 L508.90,191.57 L509.40,193.01 L509.90,194.46 L510.40,195.91 L510.90,197.37 L511.40,198.83 L511.90,200.29 L512.40,201.75 L512.90,203.22 L513.40,204.68 L513.90,206.15 L514.40,207.63 L514.90,209.10 L515.40,210.58 L515.90,212.05 L516.40,213.53 L516.90,215.01 L517.40,216.49 L517.90,217.97 L518.40,219.45 L518.90,220.93 L519.40,222.41 L519.90,223.90 L520.40,225.38 L520.90,226.86 L521.40,228.34 L521.90,229.82 L522.40,231.30 L522.90,232.78 L523.40,234.26 L523.90,235.74 L524.40,237.22 L524.90,238.69 L525.40,240.17 L525.90,241.64 L526.40,243.11 L526.90,244.58 L527.40,246.05 L527.90,247.52 L528.40,248.99 L528.90,250.45 L529.40,251.91 L529.90,253.37 L530.40,254.83 L530.90,256.29 L531.40,257.74 L531.90,259.19 L532.40,260.64 L532.90,262.08 L533.40,263.52 L533.90,264.96 L534.40,266.40 L534.90,267.83 L535.40,269.26 L535.90,270.69 L536.40,272.11 L536.90,273.53 L537.40,274.95 L537.90,276.36 L538.40,277.77 L538.90,279.17 L539.40,280.57 L539.90,281.97 L540.40,283.36 L540.90,284.75 L541.40,286.13 L541.90,287.51 L542.40,288.88 L542.90,290.25 L543.40,291.62 L543.90,292.98 L544.40,294.33 L544.90,295.68 L545.40,297.02 L545.90,298.36 L546.40,299.69 L546.90,301.02 L547.40,302.34 L547.90,303.66 L548.40,304.97 L548.90,306.28 L549.40,307.59 L549.90,308.88 L550.40,310.18 L550.90,311.47 L551.40,312.75 L551.90,314.03 L552.40,315.31 L552.90,316.58 L553.40,317.85 L553.90,319.11 L554.40,320.37 L554.90,321.62 L555.40,322.88 L555.90,324.12 L556.40,325.37 L556.90,326.61 L557.40,327.84 L557.90,329.07 L558.40,330.30 L558.90,331.53 L559.40,332.75 L559.90,333.97 L560.40,335.19 L560.90,336.40 L561.40,337.61 L561.90,338.81 L562.40,340.02 L562.90,341.22 L563.40,342.42 L563.90,343.61 L564.40,344.80 L564.90,345.99 L565.40,347.18 L565.90,348.37 L566.40,349.55 L566.90,350.73 L567.40,351.91 L567.90,353.08 L568.40,354.26 L568.90,355.43 L569.40,356.60 L569.90,357.77 L570.40,358.93 L570.90,360.10 L571.40,361.26 L571.90,362.42 L572.40,363.58 L572.90,364.73 L573.40,365.89 L573.90,367.04 L574.40,368.19 L574.90,369.34 L575.40,370.48 L575.90,371.63 L576.40,372.77 L576.90,373.91 L577.40,375.04 L577.90,376.18 L578.40,377.31 L578.90,378.44 L579.40,379.57 L579.90,380.69 L580.40,381.81 L580.90,382.93 L581.40,384.05 L581.90,385.16 L582.40,386.27 L582.90,387.38 L583.40,388.48 L583.90,389.59 L584.40,390.68 L584.90,391.78 L585.40,392.87 L585.90,393.96 L586.40,395.05 L586.90,396.13 L587.40,397.21 L587.90,398.29 L588.40,399.37 L588.90,400.44 L589.40,401.50 L589.90,402.57 L590.40,403.63 L590.90,404.68 L591.40,405.74 L591.90,406.79 L592.40,407.83 L592.90,408.88 L593.40,409.91 L593.90,410.95 L594.40,411.98 L594.90,413.01 L595.40,414.03 L595.90,415.05 L596.40,416.07 L596.90,417.08 L597.40,418.09 L597.90,419.09 L598.40,420.09 L598.90,421.08 L599.40,422.07 L599.90,423.06 L600.40,424.04 L600.90,425.02 L601.40,426.00 L601.90,426.97 L602.40,427.93 L602.90,428.89 L603.40,429.85 L603.90,430.80 L604.40,431.75 L604.90,432.70 L605.40,433.64 L605.90,434.57 L606.40,435.50 L606.90,436.43 L607.40,437.36 L607.90,438.28 L608.40,439.19 L608.90,440.11 L609.40,441.01 L609.90,441.92 L610.40,442.82 L610.90,443.71 L611.40,444.61 L611.90,445.49 L612.40,446.38 L612.90,447.26 L613.40,448.14 L613.90,449.01 L614.40,449.88 L614.90,450.74 L615.40,451.60 L615.90,452.46 L616.40,453.32 L616.90,454.17 L617.40,455.01 L617.90,455.85 L618.40,456.69 L618.90,457.53 L619.40,458.36 L619.90,459.19 L620.40,460.01 L620.90,460.83 L621.40,461.65 L621.90,462.46 L622.40,463.27 L622.90,464.08 L623.40,464.88 L623.90,465.68 L624.40,466.48 L624.90,467.27 L625.40,468.06 L625.90,468.84 L626.40,469.63 L626.90,470.41 L627.40,471.18 L627.90,471.95 L628.40,472.72 L628.90,473.49 L629.40,474.25 L629.90,475.01 L630.40,475.76 L630.90,476.51 L631.40,477.26 L631.90,478.01 L632.40,478.75 L632.90,479.49 L633.40,480.23 L633.90,480.96 L634.40,481.69 L634.90,482.41 L635.40,483.14 L635.90,483.86 L636.40,484.57 L636.90,485.29 L637.40,486.00 L637.90,486.71 L638.40,487.41 L638.90,488.11 L639.40,488.81 L639.90,489.51 L640.40,490.20 L640.90,490.89 L641.40,491.58 L641.90,492.26 L642.40,492.94 L642.90,493.62 L643.40,494.30 L643.90,494.97 L644.40,495.64 L644.90,496.30 L645.40,496.97 L645.90,497.63 L646.40,498.29 L646.90,498.94 L647.40,499.59 L647.90,500.24 L648.40,500.89 L648.90,501.53 L649.40,502.17 L649.90,502.81 L650.40,503.45 L650.90,504.08 L651.40,504.71 L651.90,505.33 L652.40,505.96 L652.90,506.58 L653.40,507.20 L653.90,507.81 L654.40,508.42 L654.90,509.03 L655.40,509.64 L655.90,510.25 L656.40,510.85 L656.90,511.45 L657.40,512.04 L657.90,512.63 L658.40,513.22 L658.90,513.81 L659.40,514.40 L659.90,514.98 L660.40,515.56 L660.90,516.13 L661.40,516.71 L661.90,517.28 L662.40,517.85 L662.90,518.41 L663.40,518.98 L663.90,519.54 L664.40,520.10 L664.90,520.65 L665.40,521.20 L665.90,521.75 L666.40,522.30 L666.90,522.85 L667.40,523.39 L667.90,523.93 L668.40,524.46 L668.90,525.00 L669.40,525.53 L669.90,526.06 L670.40,526.58 L670.90,527.11 L671.40,527.63 L671.90,528.15 L672.40,528.66 L672.90,529.18 L673.40,529.69 L673.90,530.19 L674.40,530.70 L674.90,531.20 L675.40,531.70 L675.90,532.20 L676.40,532.70 L676.90,533.19 L677.40,533.68 L677.90,534.17 L678.40,534.65 L678.90,535.14 L679.40,535.62 L679.90,536.09 L680.40,536.57 L680.90,537.04 L681.40,537.51 L681.90,537.98 L682.40,538.45 L682.90,538.91 L683.40,539.37 L683.90,539.83 L684.40,540.28 L684.90,540.74 L685.40,541.19 L685.90,541.64 L686.40,542.08 L686.90,542.53 L687.40,542.97 L687.90,543.41 L688.40,543.84 L688.90,544.28 L689.40,544.71 L689.90,545.14 L690.40,545.56 L690.90,545.99 L691.40,546.41 L691.90,546.83 L692.40,547.25 L692.90,547.66 L693.40,548.08 L693.90,548.49 L694.40,548.89 L694.90,549.30 L695.40,549.70 L695.90,550.11 L696.40,550.50 L696.90,550.90 L697.40,551.30 L697.90,551.69 L698.40,552.08 L698.90,552.47 L699.40,552.85 L699.90,553.24 L700.40,553.62 L700.90,554.00 L701.40,554.37 L701.90,554.75 L702.40,555.12 L702.90,555.49 L703.40,555.86 L703.90,556.23 L704.40,556.59 L704.90,556.96 L705.40,557.32 L705.90,557.67 L706.40,558.03 L706.90,558.38 L707.40,558.74 L707.90,559.09 L708.40,559.43 L708.90,559.78 L709.40,560.12 L709.90,560.46 L710.40,560.80 L710.90,561.14 L711.40,561.48 L711.90,561.81 L712.40,562.14 L712.90,562.47 L713.40,562.80 L713.90,563.13 L714.40,563.45 L714.90,563.77 L715.40,564.09 L715.90,564.41 L716.40,564.73 L716.90,565.04 L717.40,565.36 L717.90,565.67 L718.40,565.98 L718.90,566.28 L719.40,566.59 L719.90,566.89 L720.40,567.20 L720.90,567.50 L721.40,567.79 L721.90,568.09 L722.40,568.39 L722.90,568.68 L723.40,568.97 L723.90,569.26 L724.40,569.55 L724.90,569.83 L725.40,570.12 L725.90,570.40 L726.40,570.68 L726.90,570.96 L727.40,571.24 L727.90,571.51 L728.40,571.79 L728.90,572.06 L729.40,572.33 L729.90,572.60 L730.40,572.87 L730.90,573.13 L731.40,573.40 L731.90,573.66 L732.40,573.92 L732.90,574.18 L733.40,574.44 L733.90,574.70 L734.40,574.95 L734.90,575.21 L735.40,575.46 L735.90,575.71 L736.40,575.96 L736.90,576.20 L737.40,576.45 L737.90,576.70 L738.40,576.94 L738.90,577.18 L739.40,577.42 L739.90,577.66 L740.40,577.90 L740.90,578.13 L741.40,578.37 L741.90,578.60 L742.40,578.83 L742.90,579.06 L743.40,579.29 L743.90,579.52 L744.40,579.74 L744.90,579.97 L745.40,580.19 L745.90,580.41 L746.40,580.63 L746.90,580.85 L747.40,581.07 L747.90,581.29 L748.40,581.50 L748.90,581.72 L749.40,581.93 L749.90,582.14 L750.40,582.35 L750.90,582.56 L751.40,582.77 L751.90,582.98 L752.40,583.18 L752.90,583.39 L753.40,583.59 L753.90,583.79 L754.40,583.99 L754.90,584.19 L755.40,584.39 L755.90,584.59 L756.40,584.79 L756.90,584.98 L757.40,585.17 L757.90,585.37 L758.40,585.56 L758.90,585.75 L759.40,585.94 L759.90,586.13 L760.40,586.32 L760.90,586.50 L761.40,586.69 L761.90,586.87 L762.40,587.06 L762.90,587.24 L763.40,587.42 L763.90,587.60 L764.40,587.78 L764.90,587.96 L765.40,588.13 L765.90,588.31 L766.40,588.49 L766.90,588.66 L767.40,588.83 L767.90,589.01 L768.40,589.18 L768.90,589.35 L769.40,589.52 L769.90,589.68 L770.40,589.85 L770.90,590.02 L771.40,590.18 L771.90,590.35 L772.40,590.51 L772.90,590.67 L773.40,590.84 L773.90,591.00 L774.40,591.16 L774.90,591.32 L775.40,591.47 L775.90,591.63 L776.40,591.79 L776.90,591.94 L777.40,592.10 L777.90,592.25 L778.40,592.40 L778.90,592.55 L779.40,592.70 L779.90,592.85 L780.40,593.00 L780.90,593.15 L781.40,593.30 L781.90,593.45 L782.40,593.59 L782.90,593.74 L783.40,593.88 L783.90,594.02 L784.40,594.17 L784.90,594.31 L785.40,594.45 L785.90,594.59 L786.40,594.73 L786.90,594.86 L787.40,595.00 L787.90,595.14 L788.40,595.27 L788.90,595.41 L789.40,595.54 L789.90,595.68 L790.40,595.81 L790.90,595.94 L791.40,596.07 L791.90,596.20 L792.40,596.33 L792.90,596.46 L793.40,596.59 L793.90,596.72 L794.40,596.85 L794.90,596.97 L795.40,597.10 L795.90,597.22 L796.40,597.35 L796.90,597.47 L797.40,597.59 L797.90,597.71 L798.40,597.83 L798.90,597.95 L799.40,598.07 L799.90,598.19 L800.40,598.31 L800.90,598.43 L801.40,598.55 L801.90,598.66 L802.40,598.78 L802.90,598.89 L803.40,599.01 L803.90,599.12 L804.40,599.23 L804.90,599.35 L805.40,599.46 L805.90,599.57 L806.40,599.68 L806.90,599.79 L807.40,599.90 L807.90,600.01 L808.40,600.12 L808.90,600.23 L809.40,600.33 L809.90,600.44 L810.40,600.54 L810.90,600.65 L811.40,600.75 L811.90,600.86 L812.40,600.96 L812.90,601.07 L813.40,601.17 L813.90,601.27 L814.40,601.37 L814.90,601.47 L815.40,601.57 L815.90,601.67 L816.40,601.77 L816.90,601.87 L817.40,601.97 L817.90,602.07 L818.40,602.16 L818.90,602.26 L819.40,602.36 L819.90,602.45 L820.40,602.55 L820.90,602.64 L821.40,602.74 L821.90,602.83 L822.40,602.92 L822.90,603.02 L823.40,603.11 L823.90,603.20 L824.40,603.29 L824.90,603.39 L825.40,603.48 L825.90,603.57 L826.40,603.66 L826.90,603.75 L827.40,603.83 L827.90,603.92 L828.40,604.01 L828.90,604.10 L829.40,604.19 L829.90,604.27 L830.40,604.36 L830.90,604.45 L831.40,604.53 L831.90,604.62 L832.40,604.70 L832.90,604.79 L833.40,604.87 L833.90,604.96 L834.40,605.04 L834.90,605.12 L835.40,605.21 L835.90,605.29 L836.40,605.37 L836.90,605.46 L837.40,605.54 L837.90,605.62 L838.40,605.70 L838.90,605.78 L839.40,605.86 L839.90,605.94 L840.40,606.02 L840.90,606.10 L841.40,606.18 L841.90,606.26 L842.40,606.34 L842.90,606.42 L843.40,606.50 L843.90,606.57 L844.40,606.65 L844.90,606.73 L845.40,606.81 L845.90,606.88 L846.40,606.96 L846.90,607.04 L847.40,607.11 L847.90,607.19 L848.40,607.27 L848.90,607.34 L849.40,607.42 L849.90,607.49 L850.40,607.57 L850.90,607.64 L851.40,607.72 L851.90,607.79 L852.40,607.87 L852.60,607.90" stroke="#0000ff" stroke-width="3.1" fill="none" stroke-dasharray="11.96 12.74 13.95 12.22 12.53 13.09 10.78 12.72 9.92 15.07 9.66 15.34 12.33 14.28 10.44 15.56 10.60 16.71 10.90 16.41 9.41 17.46 11.84 17.60 9.02 17.79 12.10 16.57 12.15 14.66 10.00 14.81 10.74 14.60 10.66 14.62 10.10 17.23 9.95 16.39 10.68 13.39 14.42 15.18 12.24 13.98 12.93 15.50 9.53 14.39 11.05 16.24 9.71 16.22 11.89 14.59 13.95 13.37 12.77 18.14 9.94 15.32 10.95 17.01 10.59 15.18 13.00 15.14 11.89 14.04 13.62 14.84 12.63 15.02 11.69 14.64 10.75 14.14 12.76 14.25 11.05 14.48 11.40 11.78 13.27 12.69 12.53 12.65 10.96 12.06 11.56 12.95 12.37 11.81 10.05 12.66 11.50 13.19 11.81 11.61 12.39 12.29 12.78 58.76" stroke-linejoin="round" stroke-linecap="round"/>
<path d="M291.85,630.1V652.6M304.5,630.1V652.6M312.6,630.1V652.6M328.6,630.1V652.6M334.7,630.1V652.6M342.3,630.1V652.6M344.3,630.1V652.6M351.8,630.1V652.6M365.3,630.1V652.6M368.9,630.1V652.6M372.1,630.1V652.6M376.1,630.1V652.6M386.1,630.1V652.6M389.8,630.1V652.6M393.8,630.1V652.6M395.5,630.1V652.6M416.2,630.1V652.6M419.1,630.1V652.6M422.8,630.1V652.6M431,630.1V652.6M433,630.1V652.6M443.2,630.1V652.6M447.3,630.1V652.6M452.1,630.1V652.6M454.9,630.1V652.6M458.2,630.1V652.6M463.9,630.1V652.6M469,630.1V652.6M477,630.1V652.6M493.1,630.1V652.6M512.5,630.1V652.6M519.5,630.1V652.6M544.9,630.1V652.6M548.1,630.1V652.6M559.6,630.1V652.6M563.1,630.1V652.6M598.4,630.1V652.6M602.2,630.1V652.6M630,630.1V652.6M633.4,630.1V652.6M649,630.1V652.6M673.8,630.1V652.6M677.1,630.1V652.6M713.6,630.1V652.6" stroke="#000" stroke-width="2.1"/>
<path d="M323.0,630.1V652.6M349.5,630.1V652.6M362.0,630.1V652.6M379.0,630.1V652.6M382.8,630.1V652.6M391.8,630.1V652.6M398.8,630.1V652.6M405.3,630.1V652.6M407.3,630.1V652.6M409.0,630.1V652.6M412.8,630.1V652.6M415.0,630.1V652.6M426,630.1V652.6M428.5,630.1V652.6M435.3,630.1V652.6M441,630.1V652.6M445.1,630.1V652.6M448.8,630.1V652.6M450.3,630.1V652.6M462,630.1V652.6M465.7,630.1V652.6M471,630.1V652.6M473,630.1V652.6M475,630.1V652.6M479.0,630.1V652.6M502.3,630.1V652.6M514.8,630.1V652.6M516.3,630.1V652.6M523,630.1V652.6M528.4,630.1V652.6M533.3,630.1V652.6M535.5,630.1V652.6M542.7,630.1V652.6M566.5,630.1V652.6M572.4,630.1V652.6M581.3,630.1V652.6M586,630.1V652.6M588.5,630.1V652.6M626.3,630.1V652.6M643.4,630.1V652.6M650.5,630.1V652.6M672.3,630.1V652.6M706.8,630.1V652.6M773.6,630.1V652.6M810.1,630.1V652.6" stroke="#0000ff" stroke-width="2.1"/>
<rect x="643.65" y="17.2" width="222.7" height="134.2" fill="none" stroke="#000" stroke-width="2.3"/>
<text x="715.6" y="51.9" font-size="27.5" textLength="76.5" lengthAdjust="spacing">Breed</text>
<path d="M670.15,83.8H720.75" stroke="#000" stroke-width="2.3" stroke-linecap="round"/>
<path d="M670.15,119.4H720.75" stroke="#0000ff" stroke-width="2.3" stroke-dasharray="7 7" stroke-linecap="round"/>
<text x="744" y="97.6" font-size="27">Huacaya</text>
<text x="744.2" y="130.3" font-size="27" textLength="50.3" lengthAdjust="spacing">Suri</text>
</svg></body></html>
